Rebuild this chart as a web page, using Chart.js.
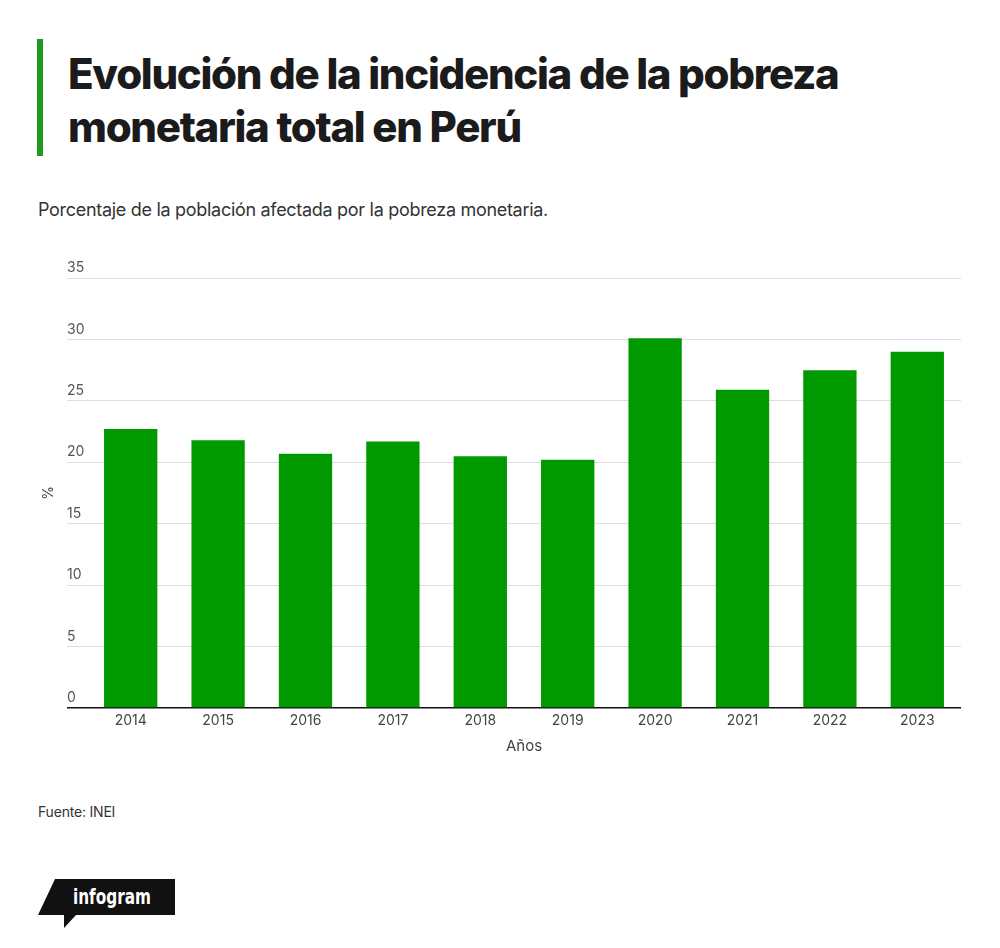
<!DOCTYPE html>
<html lang="es">
<head>
<meta charset="utf-8">
<title>Pobreza monetaria Perú</title>
<script src="https://cdn.jsdelivr.net/npm/chart.js@4.4.1/dist/chart.umd.min.js"></script>
<style>
  html, body { margin: 0; padding: 0; background: #fff; }
  body { width: 1000px; height: 948px; position: relative; overflow: hidden; font-family: Inter, "Noto Sans", sans-serif; }
  .accent { position: absolute; left: 37px; top: 39px; width: 6px; height: 117px; background: #1f9a1f; }
  h1 { position: absolute; left: 68px; top: 47px; margin: 0; font-size: 42px; line-height: 53px; font-weight: 800; letter-spacing: -1.3px; color: #1b1b1b; }
  .sub { position: absolute; left: 38px; top: 199px; margin: 0; font-size: 18px; color: #333; font-weight: 400; letter-spacing: -0.3px; }
  .chartbox { position: absolute; left: 0; top: 250px; width: 1000px; height: 510px; }
  .src { position: absolute; left: 38px; top: 803px; font-size: 14px; color: #333; letter-spacing: -0.2px; }
  .logo { position: absolute; left: 38px; top: 879px; }
</style>
</head>
<body>
<div class="accent"></div>
<h1>Evolución de la incidencia de la pobreza<br>monetaria total en Perú</h1>
<p class="sub">Porcentaje de la población afectada por la pobreza monetaria.</p>
<div class="chartbox"><canvas id="barChart_pobreza"></canvas></div>
<div class="src">Fuente: INEI</div>
<svg class="logo" width="140" height="52" viewBox="0 0 140 52">
  <polygon points="17,0 137,0 137,36 38,36 26,49 26,36 0,36" fill="#111"/>
  <text x="35" y="25" fill="#fff" font-family="'DejaVu Sans Condensed', 'Roboto', sans-serif" font-weight="bold" font-size="21" textLength="78" lengthAdjust="spacingAndGlyphs">infogram</text>
</svg>

<script>
/*POBREZA MONETARIA TOTAL - PERU*/
const anios = ['2014', '2015', '2016', '2017', '2018', '2019', '2020', '2021', '2022', '2023'];
const pobreza = [22.7, 21.8, 20.7, 21.7, 20.5, 20.2, 30.1, 25.9, 27.5, 29.0];
const ticksY = [0, 5, 10, 15, 20, 25, 30, 35];

let ctx_pobreza = document.getElementById('barChart_pobreza').getContext('2d');
let pobrezaChart = new Chart(ctx_pobreza, {
    type: 'bar',
    data: {
        labels: anios,
        datasets: [{
            label: '%',
            data: pobreza,
            backgroundColor: '#009a00',
            barPercentage: 0.61,
            categoryPercentage: 1
        }]
    },
    options: {
        responsive: true,
        maintainAspectRatio: false,
        animation: false,
        layout: { padding: { top: 28, left: 30, right: 39, bottom: 0 } },
        plugins: {
            legend: { display: false },
            tooltip: { enabled: false }
        },
        scales: {
            x: {
                grid: { display: false, drawTicks: false },
                border: { display: false },
                ticks: { color: '#444', font: { family: 'Inter', size: 14 }, padding: 4, maxRotation: 0 },
                title: { display: true, text: 'Años', color: '#444', font: { family: 'Inter', size: 15 }, padding: { top: 0, bottom: 5 } },
                afterFit: (scale) => { scale.height = 52; }
            },
            y: {
                position: 'left',
                min: 0,
                max: 35,
                afterBuildTicks: (scale) => { scale.ticks = ticksY.map(v => ({ value: v })); },
                grid: {
                    color: (c) => c.tick && c.tick.value === 0 ? '#111' : '#dedede',
                    tickColor: (c) => c.tick && c.tick.value === 0 ? '#111' : '#dedede',
                    lineWidth: (c) => c.tick && c.tick.value === 0 ? 1.5 : 1,
                    tickLength: 20,
                    drawTicks: true
                },
                border: { display: false },
                ticks: { color: '#555', font: { family: 'Inter', size: 14 }, crossAlign: 'far', labelOffset: -10 },
                afterFit: (scale) => { scale.width = 20; }
            },
            y2: {
                position: 'left',
                grid: { display: false, drawTicks: false },
                border: { display: false },
                ticks: { display: false },
                title: { display: true, text: '%', color: '#444', font: { family: 'Inter', size: 14 }, padding: { top: 10, bottom: 0 } },
                afterFit: (scale) => { scale.width = 37; }
            }
        }
    }
});
</script>
</body>
</html>
